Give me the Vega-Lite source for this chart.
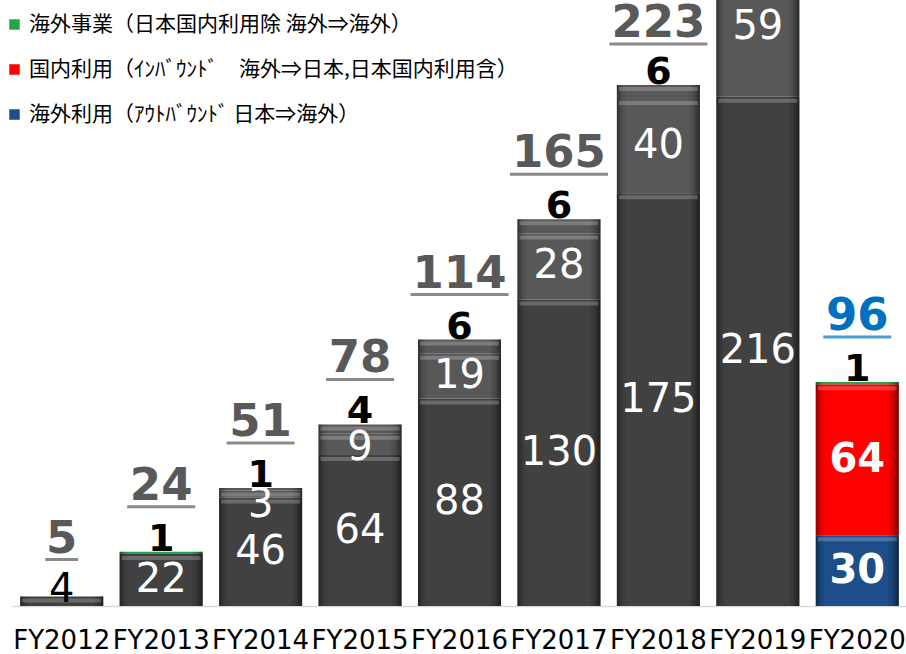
{
  "$schema": "https://vega.github.io/schema/vega-lite/v6.json",
  "width": 895,
  "height": 606,
  "autosize": {"type": "none"},
  "padding": {"left": 12, "top": 0, "right": 0, "bottom": 48},
  "background": "white",
  "config": {"view": {"stroke": null}, "font": "DejaVu Sans"},
  "datasets": {
    "seg": [
      {"year": "FY2012", "category": "海外利用（ｱｳﾄﾊﾞｳﾝﾄﾞ 日本⇒海外）", "k": 1, "value": 4},
      {"year": "FY2013", "category": "海外利用（ｱｳﾄﾊﾞｳﾝﾄﾞ 日本⇒海外）", "k": 1, "value": 22},
      {"year": "FY2013", "category": "海外事業（日本国内利用除 海外⇒海外）", "k": 3, "value": 1},
      {"year": "FY2014", "category": "海外利用（ｱｳﾄﾊﾞｳﾝﾄﾞ 日本⇒海外）", "k": 1, "value": 46},
      {"year": "FY2014", "category": "国内利用（ｲﾝﾊﾞｳﾝﾄﾞ　海外⇒日本,日本国内利用含）", "k": 2, "value": 3},
      {"year": "FY2014", "category": "海外事業（日本国内利用除 海外⇒海外）", "k": 3, "value": 1},
      {"year": "FY2015", "category": "海外利用（ｱｳﾄﾊﾞｳﾝﾄﾞ 日本⇒海外）", "k": 1, "value": 64},
      {"year": "FY2015", "category": "国内利用（ｲﾝﾊﾞｳﾝﾄﾞ　海外⇒日本,日本国内利用含）", "k": 2, "value": 9},
      {"year": "FY2015", "category": "海外事業（日本国内利用除 海外⇒海外）", "k": 3, "value": 4},
      {"year": "FY2016", "category": "海外利用（ｱｳﾄﾊﾞｳﾝﾄﾞ 日本⇒海外）", "k": 1, "value": 88},
      {"year": "FY2016", "category": "国内利用（ｲﾝﾊﾞｳﾝﾄﾞ　海外⇒日本,日本国内利用含）", "k": 2, "value": 19},
      {"year": "FY2016", "category": "海外事業（日本国内利用除 海外⇒海外）", "k": 3, "value": 6},
      {"year": "FY2017", "category": "海外利用（ｱｳﾄﾊﾞｳﾝﾄﾞ 日本⇒海外）", "k": 1, "value": 130},
      {"year": "FY2017", "category": "国内利用（ｲﾝﾊﾞｳﾝﾄﾞ　海外⇒日本,日本国内利用含）", "k": 2, "value": 28},
      {"year": "FY2017", "category": "海外事業（日本国内利用除 海外⇒海外）", "k": 3, "value": 6},
      {"year": "FY2018", "category": "海外利用（ｱｳﾄﾊﾞｳﾝﾄﾞ 日本⇒海外）", "k": 1, "value": 175},
      {"year": "FY2018", "category": "国内利用（ｲﾝﾊﾞｳﾝﾄﾞ　海外⇒日本,日本国内利用含）", "k": 2, "value": 40},
      {"year": "FY2018", "category": "海外事業（日本国内利用除 海外⇒海外）", "k": 3, "value": 6},
      {"year": "FY2019", "category": "海外利用（ｱｳﾄﾊﾞｳﾝﾄﾞ 日本⇒海外）", "k": 1, "value": 216},
      {"year": "FY2019", "category": "国内利用（ｲﾝﾊﾞｳﾝﾄﾞ　海外⇒日本,日本国内利用含）", "k": 2, "value": 59},
      {"year": "FY2019", "category": "海外事業（日本国内利用除 海外⇒海外）", "k": 3, "value": 6},
      {"year": "FY2020", "category": "海外利用（ｱｳﾄﾊﾞｳﾝﾄﾞ 日本⇒海外）", "k": 1, "value": 30},
      {"year": "FY2020", "category": "国内利用（ｲﾝﾊﾞｳﾝﾄﾞ　海外⇒日本,日本国内利用含）", "k": 2, "value": 64},
      {"year": "FY2020", "category": "海外事業（日本国内利用除 海外⇒海外）", "k": 3, "value": 1}
    ],
    "tot": [
      {"year": "FY2012", "total": 5},
      {"year": "FY2013", "total": 24},
      {"year": "FY2014", "total": 51},
      {"year": "FY2015", "total": 78},
      {"year": "FY2016", "total": 114},
      {"year": "FY2017", "total": 165},
      {"year": "FY2018", "total": 223},
      {"year": "FY2019", "total": 282},
      {"year": "FY2020", "total": 96}
    ]
  },
  "layer": [
    {
      "data": {"name": "seg"},
      "transform": [
        {"stack": "value", "groupby": ["year"], "sort": [{"field": "k", "order": "ascending"}], "as": ["v0", "v1"]},
        {"calculate": "(datum.v0 + datum.v1) / 2", "as": "mid"}
      ],
      "layer": [
        {
          "mark": {"type": "bar"},
          "encoding": {
            "x": {"field": "year", "type": "nominal", "sort": null, "title": null,
              "scale": {"paddingInner": 0.165, "paddingOuter": 0.0825},
              "axis": {"ticks": false, "labelFontSize": 26, "labelColor": "#000000", "labelFont": "DejaVu Sans", "labelPadding": 21, "domainColor": "#d9d9d9", "domainWidth": 1.5, "labelAngle": 0, "labelOverlap": false}},
            "y": {"field": "v0", "type": "quantitative", "scale": {"domain": [0, 257], "nice": false}, "axis": null},
            "y2": {"field": "v1"},
            "color": {
              "condition": [
                {"test": "datum.year === 'FY2013' && datum.k === 3", "value": "#27a348"},
                {"test": "datum.year !== 'FY2020' && datum.k === 1", "value": "#414141"},
                {"test": "datum.year !== 'FY2020'", "value": "#585858"}
              ],
              "field": "category", "type": "nominal",
              "scale": {
                "domain": ["海外事業（日本国内利用除 海外⇒海外）", "国内利用（ｲﾝﾊﾞｳﾝﾄﾞ　海外⇒日本,日本国内利用含）", "海外利用（ｱｳﾄﾊﾞｳﾝﾄﾞ 日本⇒海外）"],
                "range": ["#27a348", "#ff0000", "#1d4e89"]
              },
              "legend": {"title": null, "orient": "none", "legendX": -8, "legendY": 14, "labelFont": "Noto Sans CJK JP", "labelFontSize": 21, "labelColor": "#000000", "symbolType": "square", "symbolSize": 110, "symbolStrokeWidth": 0, "rowPadding": 23, "labelOffset": 4, "labelLimit": 700}
            }
          }
        },
        {
          "mark": {"type": "bar", "fill": {"gradient": "linear", "x1": 0, "y1": 0, "x2": 1, "y2": 0, "stops": [
            {"offset": 0, "color": "rgba(0,0,0,0.45)"},
            {"offset": 0.06, "color": "rgba(0,0,0,0.12)"},
            {"offset": 0.12, "color": "rgba(0,0,0,0)"},
            {"offset": 0.86, "color": "rgba(0,0,0,0)"},
            {"offset": 0.93, "color": "rgba(0,0,0,0.18)"},
            {"offset": 1, "color": "rgba(0,0,0,0.55)"}
          ]}},
          "encoding": {
            "x": {"field": "year", "type": "nominal", "sort": null},
            "y": {"field": "v0", "type": "quantitative"},
            "y2": {"field": "v1"}
          }
        },
        {
          "transform": [{"filter": "datum.value > 1"}],
          "mark": {"type": "tick", "color": "#ffffff", "opacity": 0.22, "thickness": 4, "size": 79, "yOffset": 4},
          "encoding": {
            "x": {"field": "year", "type": "nominal", "sort": null},
            "y": {"field": "v1", "type": "quantitative"}
          }
        },
        {
          "transform": [{"filter": "datum.year !== 'FY2020' && datum.year !== 'FY2012' && (datum.k === 1 || (datum.k === 2 && datum.value >= 10))"}],
          "mark": {"type": "text", "color": "#ffffff", "fontSize": 40, "font": "DejaVu Sans", "baseline": "middle"},
          "encoding": {
            "x": {"field": "year", "type": "nominal", "sort": null},
            "y": {"field": "mid", "type": "quantitative"},
            "text": {"field": "value", "type": "quantitative"}
          }
        },
        {
          "transform": [{"filter": "datum.year !== 'FY2020' && datum.k === 2 && datum.value < 10 && datum.value >= 5"}],
          "mark": {"type": "text", "color": "#ffffff", "fontSize": 40, "font": "DejaVu Sans", "baseline": "middle", "dy": 4},
          "encoding": {
            "x": {"field": "year", "type": "nominal", "sort": null},
            "y": {"field": "mid", "type": "quantitative"},
            "text": {"field": "value", "type": "quantitative"}
          }
        },
        {
          "transform": [{"filter": "datum.year !== 'FY2020' && datum.k === 2 && datum.value < 5"}],
          "mark": {"type": "text", "color": "#ffffff", "fontSize": 40, "font": "DejaVu Sans", "baseline": "middle", "dy": 11},
          "encoding": {
            "x": {"field": "year", "type": "nominal", "sort": null},
            "y": {"field": "mid", "type": "quantitative"},
            "text": {"field": "value", "type": "quantitative"}
          }
        },
        {
          "transform": [{"filter": "datum.k < 3 && datum.year === 'FY2020'"}],
          "mark": {"type": "text", "color": "#ffffff", "fontSize": 40, "fontWeight": "bold", "font": "DejaVu Sans", "baseline": "middle"},
          "encoding": {
            "x": {"field": "year", "type": "nominal", "sort": null},
            "y": {"field": "mid", "type": "quantitative"},
            "text": {"field": "value", "type": "quantitative"}
          }
        },
        {
          "transform": [{"filter": "datum.year === 'FY2012'"}],
          "mark": {"type": "text", "color": "#000000", "fontSize": 40, "font": "DejaVu Sans", "baseline": "middle", "dy": -11},
          "encoding": {
            "x": {"field": "year", "type": "nominal", "sort": null},
            "y": {"field": "mid", "type": "quantitative"},
            "text": {"field": "value", "type": "quantitative"}
          }
        },
        {
          "transform": [{"filter": "datum.k === 3"}],
          "mark": {"type": "text", "color": "#000000", "fontSize": 38, "fontWeight": "bold", "font": "DejaVu Sans", "baseline": "alphabetic", "dy": -1},
          "encoding": {
            "x": {"field": "year", "type": "nominal", "sort": null},
            "y": {"field": "v1", "type": "quantitative"},
            "text": {"field": "value", "type": "quantitative"}
          }
        }
      ]
    },
    {
      "data": {"name": "seg"},
      "transform": [
        {"aggregate": [{"op": "sum", "field": "value", "as": "top"}], "groupby": ["year"]},
        {"lookup": "year", "from": {"data": {"name": "tot"}, "key": "year", "fields": ["total"]}}
      ],
      "layer": [
        {
          "transform": [{"filter": "datum.year !== 'FY2012' && datum.year !== 'FY2018'"}],
          "mark": {"type": "text", "fontSize": 45, "fontWeight": "bold", "font": "DejaVu Sans", "baseline": "alphabetic", "dy": -52},
          "encoding": {
            "x": {"field": "year", "type": "nominal", "sort": null},
            "y": {"field": "top", "type": "quantitative"},
            "text": {"field": "total", "type": "quantitative"},
            "color": {"condition": {"test": "datum.year === 'FY2020'", "value": "#0070c0"}, "value": "#595959"}
          }
        },
        {
          "transform": [{"filter": "datum.year === 'FY2018'"}],
          "mark": {"type": "text", "fontSize": 45, "fontWeight": "bold", "font": "DejaVu Sans", "baseline": "alphabetic", "dy": -48, "color": "#595959"},
          "encoding": {
            "x": {"field": "year", "type": "nominal", "sort": null},
            "y": {"field": "top", "type": "quantitative"},
            "text": {"field": "total", "type": "quantitative"}
          }
        },
        {
          "transform": [{"filter": "datum.year === 'FY2012'"}],
          "mark": {"type": "text", "fontSize": 45, "fontWeight": "bold", "font": "DejaVu Sans", "baseline": "alphabetic", "dy": -44, "color": "#595959"},
          "encoding": {
            "x": {"field": "year", "type": "nominal", "sort": null},
            "y": {"field": "top", "type": "quantitative"},
            "text": {"field": "total", "type": "quantitative"}
          }
        },
        {
          "transform": [{"filter": "datum.year !== 'FY2012' && datum.year !== 'FY2018'"}],
          "mark": {"type": "tick", "thickness": 3, "yOffset": -45},
          "encoding": {
            "x": {"field": "year", "type": "nominal", "sort": null},
            "y": {"field": "top", "type": "quantitative"},
            "size": {"condition": [{"test": "datum.total >= 100", "value": 98}, {"test": "datum.total >= 10", "value": 68}], "value": 33},
            "color": {"condition": {"test": "datum.year === 'FY2020'", "value": "#0070c0"}, "value": "#595959"}
          }
        },
        {
          "transform": [{"filter": "datum.year === 'FY2018'"}],
          "mark": {"type": "tick", "thickness": 3, "yOffset": -41, "size": 98, "color": "#595959"},
          "encoding": {
            "x": {"field": "year", "type": "nominal", "sort": null},
            "y": {"field": "top", "type": "quantitative"}
          }
        },
        {
          "transform": [{"filter": "datum.year === 'FY2012'"}],
          "mark": {"type": "tick", "thickness": 3, "yOffset": -37, "size": 33, "color": "#595959"},
          "encoding": {
            "x": {"field": "year", "type": "nominal", "sort": null},
            "y": {"field": "top", "type": "quantitative"}
          }
        }
      ]
    }
  ]
}
